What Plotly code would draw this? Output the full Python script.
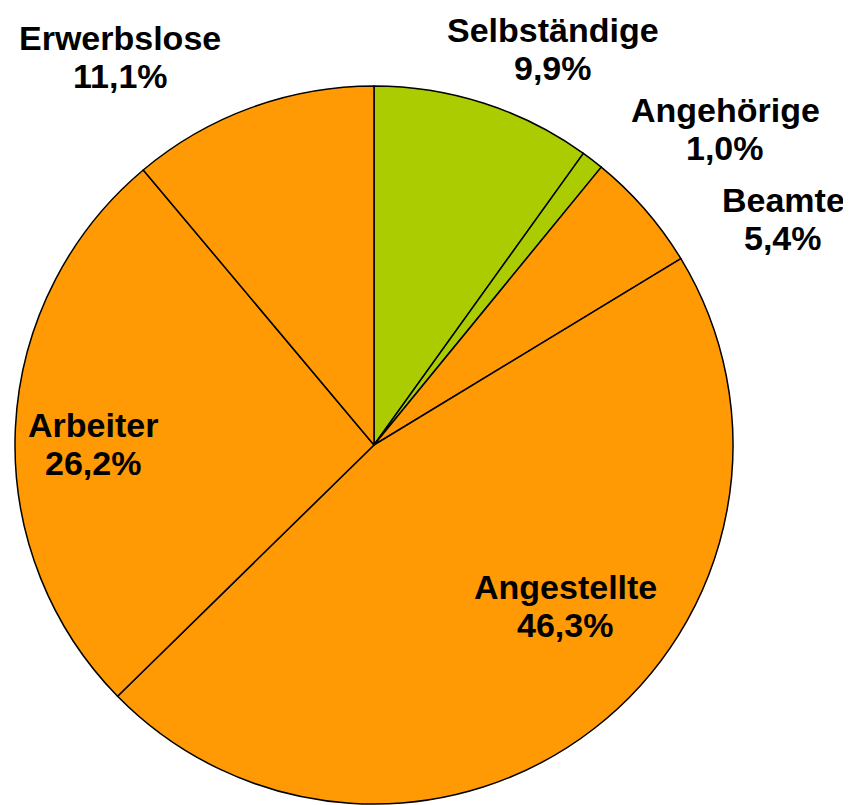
import plotly.graph_objects as go

categories = ["Selbständige", "Angehörige", "Beamte", "Angestellte", "Arbeiter", "Erwerbslose"]
values = [9.9, 1.0, 5.4, 46.3, 26.2, 11.1]
colors = ["#AACC00", "#AACC00", "#FF9A05", "#FF9A05", "#FF9A05", "#FF9A05"]

# label anchor positions in page pixels (center x, baseline of first line)
label_pos = {
    "Erwerbslose": (120, 50),
    "Selbständige": (553, 42),
    "Angehörige": (725, 122),
    "Beamte": (783, 212),
    "Arbeiter": (93, 437),
    "Angestellte": (565, 599),
}

W, H = 851, 805
OFF = 8  # page body margin
FS = 34
LINE = 38

fig = go.Figure(go.Pie(
    labels=categories,
    values=values,
    sort=False,
    direction="clockwise",
    rotation=0,
    marker=dict(colors=colors, line=dict(color="black", width=1.5)),
    textinfo="none",
    hoverinfo="label+percent",
    showlegend=False,
    domain=dict(x=[(11 - OFF) / W, (737 - OFF) / W],
                y=[(H - (804 - OFF)) / H, (H - (86 - OFF)) / H]),
))

annotations = []
for cat, val in zip(categories, values):
    cx, base = label_pos[cat]
    pct = f"{val:.1f}".replace(".", ",") + "%"
    for i, txt in enumerate([cat, pct]):
        b = base + i * LINE - OFF
        ymid = b - 0.36 * FS
        annotations.append(dict(
            x=(cx - OFF) / W, y=1 - ymid / H, xref="paper", yref="paper",
            text=f"<b>{txt}</b>", showarrow=False,
            xanchor="center", yanchor="middle", borderpad=0,
            font=dict(family="Liberation Sans, Arial, sans-serif", size=FS, color="black"),
        ))

fig.update_layout(
    width=W, height=H,
    margin=dict(l=0, r=0, t=0, b=0),
    paper_bgcolor="white",
    plot_bgcolor="white",
    annotations=annotations,
)

fig.write_html("out.html")
